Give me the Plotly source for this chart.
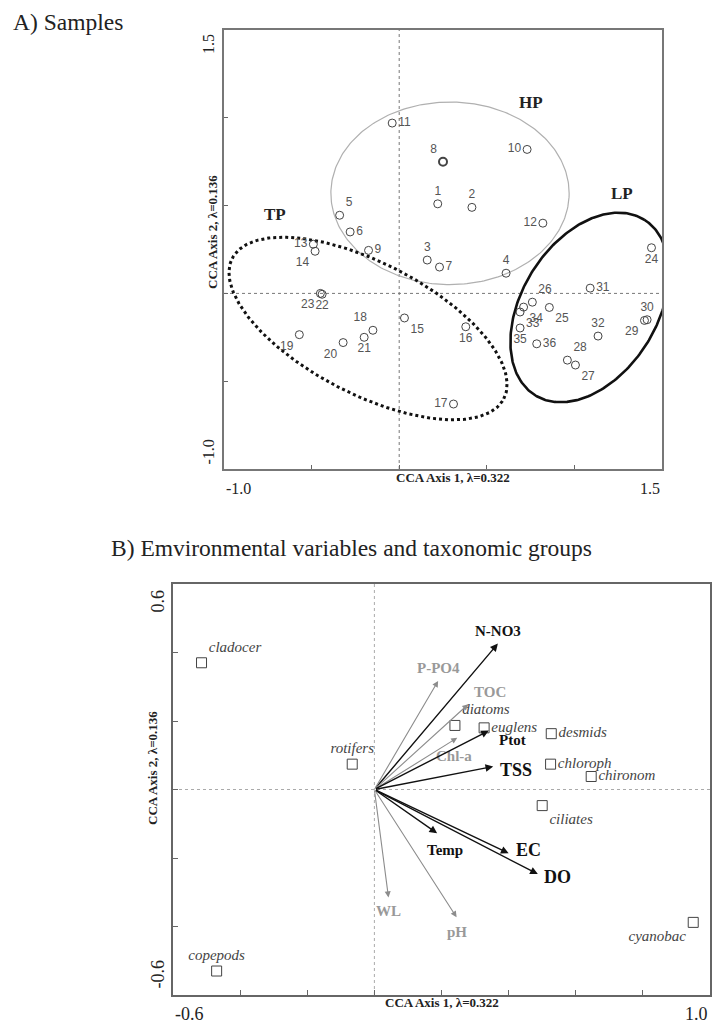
import numpy as np
import plotly.graph_objects as go

# page body adds an 8px margin, so the figure is drawn 8px smaller and offset
OFF = 8
W, H = 720 - OFF, 1023 - OFF


def px_x(p):
    return (p - OFF) / W


def px_y(p):
    return 1 - (p - OFF) / H


# ---------------- Panel A data: samples ----------------
samples = [str(i) for i in range(1, 37)]
s_ax1 = [0.22, 0.415, 0.16, 0.61, -0.34, -0.28, 0.23, 0.25, -0.175, 0.73,
         -0.04, 0.82, -0.49, -0.48, 0.03, 0.38, 0.31, -0.15, -0.57, -0.32,
         -0.20, -0.44, -0.45, 1.44, 0.857, 0.76, 1.006, 0.96, 1.40, 1.415,
         1.09, 1.135, 0.69, 0.71, 0.69, 0.785]
s_ax2 = [0.51, 0.49, 0.19, 0.115, 0.445, 0.35, 0.15, 0.75, 0.245, 0.82,
         0.97, 0.40, 0.28, 0.24, -0.14, -0.19, -0.63, -0.21, -0.235, -0.28,
         -0.25, -0.005, 0.0, 0.26, -0.08, -0.05, -0.408, -0.38, -0.154, -0.15,
         0.03, -0.243, -0.106, -0.078, -0.197, -0.287]
s_labelpos = ['top center', 'top center', 'top center', 'top center', 'top right',
              'middle right', 'middle right', 'top left', 'middle right', 'middle left',
              'middle right', 'middle left', 'middle left', 'bottom left', 'bottom right',
              'bottom center', 'middle left', 'top left', 'bottom left', 'bottom left',
              'bottom center', 'bottom center', 'bottom left', 'bottom center', 'bottom right',
              'top right', 'bottom right', 'top right', 'bottom left', 'top center',
              'middle right', 'top center', 'bottom right', 'bottom right', 'bottom center',
              'middle right']

# group envelopes: name, centre x, centre y, semi-axis a, semi-axis b, angle(deg)
groups = ['HP', 'TP', 'LP']
g_cx = [0.29, -0.178, 1.087]
g_cy = [0.57, -0.20, -0.08]
g_a = [0.68, 0.872, 0.589]
g_b = [0.52, 0.374, 0.386]
g_ang = [0.0, -27.3, 58.0]
g_label_x = [0.75, -0.71, 1.27]
g_label_y = [1.09, 0.45, 0.57]

# ---------------- Panel B data ----------------
taxa = ['cladocer', 'rotifers', 'copepods', 'diatoms', 'euglens', 'desmids',
        'chloroph', 'chironom', 'ciliates', 'cyanobac']
t_ax1 = [-0.515, -0.066, -0.47, 0.24, 0.327, 0.527, 0.525, 0.646, 0.50, 0.95]
t_ax2 = [0.37, 0.074, -0.53, 0.187, 0.18, 0.163, 0.074, 0.038, -0.047, -0.388]
t_labelpos = ['top right', 'top center', 'top center', 'top right', 'middle right',
              'middle right', 'middle right', 'middle right', 'bottom right', 'bottom left']

env = ['N-NO3', 'P-PO4', 'TOC', 'Chl-a', 'Ptot', 'TSS', 'Temp', 'EC', 'DO', 'WL', 'pH']
e_ax1 = [0.368, 0.19, 0.28, 0.247, 0.341, 0.354, 0.187, 0.40, 0.487, 0.042, 0.245]
e_ax2 = [0.426, 0.317, 0.249, 0.151, 0.172, 0.067, -0.128, -0.186, -0.247, -0.315, -0.373]
e_significant = [True, False, False, False, True, True, True, True, True, False, False]

SERIF = 'Liberation Serif, Times New Roman, serif'
SANS = 'Liberation Sans, Arial, sans-serif'

fig = go.Figure()

# ---- Panel A ----
for name, cx, cy, a, b, ang in zip(groups, g_cx, g_cy, g_a, g_b, g_ang):
    t = np.linspace(0, 2 * np.pi, 300)
    th = np.deg2rad(ang)
    ex = cx + a * np.cos(t) * np.cos(th) - b * np.sin(t) * np.sin(th)
    ey = cy + a * np.cos(t) * np.sin(th) + b * np.sin(t) * np.cos(th)
    if name == 'HP':
        line = dict(color='#b0b0b0', width=1.2)
    elif name == 'TP':
        line = dict(color='#111111', width=3, dash='3px,3px')
    else:
        line = dict(color='#111111', width=2.6)
    fig.add_trace(go.Scatter(x=ex, y=ey, mode='lines', line=line, hoverinfo='skip',
                             showlegend=False, xaxis='x', yaxis='y'))

lw = [2 if s == '8' else 1 for s in samples]
fig.add_trace(go.Scatter(
    x=s_ax1, y=s_ax2, mode='markers+text', text=samples, textposition=s_labelpos,
    textfont=dict(family=SANS, size=12, color='#555555'),
    marker=dict(symbol='circle-open', size=8, color='#444444', line=dict(width=lw)),
    showlegend=False, xaxis='x', yaxis='y', cliponaxis=False))

# ---- Panel B ----
fig.add_trace(go.Scatter(
    x=t_ax1, y=t_ax2, mode='markers+text', text=taxa, textposition=t_labelpos,
    textfont=dict(family=SERIF, size=15, color='#444444', style='italic'),
    marker=dict(symbol='square-open', size=10, color='#444444', line=dict(width=1)),
    showlegend=False, xaxis='x2', yaxis='y2', cliponaxis=False))

axA = dict(showgrid=False, zeroline=False, showline=True, mirror=True,
           linecolor='#777777', linewidth=1.5, ticks='inside', ticklen=4,
           tickcolor='#666666', tickwidth=1)
axB = dict(showgrid=False, zeroline=False, showline=True, mirror=True,
           linecolor='#666666', linewidth=2, ticks='inside', ticklen=5,
           tickcolor='#666666', tickwidth=1)

xa_ticks = [-1.0, -0.5, 0.0, 0.5, 1.0, 1.5]
xb_ticks = [-0.6, -0.4, -0.2, 0.0, 0.2, 0.4, 0.6, 0.8, 1.0]
yb_ticks = [-0.6, -0.4, -0.2, 0.0, 0.2, 0.4, 0.6]

fig.update_layout(
    width=W, height=H, margin=dict(l=0, r=0, t=0, b=0),
    paper_bgcolor='white', plot_bgcolor='white',
    xaxis=dict(domain=[px_x(224), px_x(662)], anchor='y', range=[-1.0, 1.5],
               tickvals=xa_ticks, ticktext=[''] * len(xa_ticks), **axA),
    yaxis=dict(domain=[px_y(469), px_y(30)], anchor='x', range=[-1.0, 1.5],
               tickvals=xa_ticks, ticktext=[''] * len(xa_ticks), **axA),
    xaxis2=dict(domain=[px_x(173), px_x(710)], anchor='y2', range=[-0.6, 1.0],
                tickvals=xb_ticks, ticktext=[''] * len(xb_ticks), **axB),
    yaxis2=dict(domain=[px_y(995), px_y(584)], anchor='x2', range=[-0.6, 0.6],
                tickvals=yb_ticks, ticktext=[''] * len(yb_ticks), **axB),
)

shapes = []
for xr, yr, col in [('x', 'y', '#777777'), ('x2', 'y2', '#aaaaaa')]:
    shapes.append(dict(type='line', xref=xr, yref=yr + ' domain', x0=0, x1=0, y0=0, y1=1,
                       line=dict(color=col, width=1, dash='dot'), layer='below'))
    shapes.append(dict(type='line', xref=xr + ' domain', yref=yr, x0=0, x1=1, y0=0, y1=0,
                       line=dict(color=col, width=1, dash='dot'), layer='below'))
fig.update_layout(shapes=shapes)

ann = []
ann.append(dict(text='A) Samples', xref='paper', yref='paper', x=px_x(11), y=px_y(22),
                xanchor='left', yanchor='middle', showarrow=False,
                font=dict(family=SERIF, size=23.5, color='#222222')))
ann.append(dict(text='B) Emvironmental variables and taxonomic groups', xref='paper',
                yref='paper', x=px_x(109), y=px_y(548), xanchor='left', yanchor='middle',
                showarrow=False, font=dict(family=SERIF, size=23.5, color='#222222')))

for name, gx, gy in zip(groups, g_label_x, g_label_y):
    ann.append(dict(text='<b>%s</b>' % name, xref='x', yref='y', x=gx, y=gy, showarrow=False,
                    font=dict(family=SERIF, size=17, color='#222222')))

title_font = dict(family=SERIF, size=13, color='#222222')
tick_font = dict(family=SERIF, size=16, color='#222222')
tick_fontB = dict(family=SERIF, size=18, color='#222222')

ann += [
    dict(text='<b>CCA Axis 1, λ=0.322</b>', xref='x domain', yref='y domain', x=0.5, y=0,
         yshift=-18, xshift=10, showarrow=False, font=title_font),
    dict(text='<b>CCA Axis 2, λ=0.136</b>', xref='x domain', yref='y domain', x=0,
         y=0.5, xshift=-21, yshift=17, textangle=-90, showarrow=False, font=title_font),
    dict(text='-1.0', xref='x', yref='y domain', x=-1.0, y=0, xanchor='left', yanchor='top',
         yshift=-9, showarrow=False, font=tick_font),
    dict(text='1.5', xref='x', yref='y domain', x=1.5, y=0, xanchor='right', yanchor='top',
         yshift=-9, showarrow=False, font=tick_font),
    dict(text='1.5', xref='x domain', yref='y', x=0, y=1.5, xanchor='center', yanchor='top',
         xshift=-16, yshift=-2, textangle=-90, showarrow=False, font=tick_font),
    dict(text='-1.0', xref='x domain', yref='y', x=0, y=-1.0, xanchor='center',
         yanchor='bottom', xshift=-16, yshift=2, textangle=-90, showarrow=False, font=tick_font),
    dict(text='<b>CCA Axis 1, λ=0.322</b>', xref='x2 domain', yref='y2 domain', x=0.5, y=0,
         yshift=-17, xshift=0, showarrow=False, font=title_font),
    dict(text='<b>CCA Axis 2, λ=0.136</b>', xref='x2 domain', yref='y2 domain', x=0,
         y=0.5, xshift=-30, yshift=21, textangle=-90, showarrow=False, font=title_font),
    dict(text='-0.6', xref='x2', yref='y2 domain', x=-0.6, y=0, xanchor='left',
         yanchor='top', yshift=-7, showarrow=False, font=tick_fontB),
    dict(text='1.0', xref='x2', yref='y2 domain', x=1.0, y=0, xanchor='right',
         yanchor='top', yshift=-7, showarrow=False, font=tick_fontB),
    dict(text='0.6', xref='x2 domain', yref='y2', x=0, y=0.6, xanchor='center',
         yanchor='top', xshift=-16, yshift=-4, textangle=-90, showarrow=False, font=tick_fontB),
    dict(text='-0.6', xref='x2 domain', yref='y2', x=0, y=-0.6, xanchor='center',
         yanchor='bottom', xshift=-16, yshift=4, textangle=-90, showarrow=False, font=tick_fontB),
]

label_style = {
    'N-NO3': dict(xanchor='center', yanchor='bottom', xshift=0, yshift=3, size=15),
    'P-PO4': dict(xanchor='center', yanchor='bottom', xshift=0, yshift=3, size=15),
    'TOC': dict(xanchor='left', yanchor='bottom', xshift=4, yshift=2, size=15),
    'Chl-a': dict(xanchor='center', yanchor='top', xshift=-3, yshift=-8, size=15),
    'Ptot': dict(xanchor='left', yanchor='middle', xshift=8, yshift=-9, size=15),
    'TSS': dict(xanchor='left', yanchor='middle', xshift=5, yshift=-3, size=18),
    'Temp': dict(xanchor='center', yanchor='top', xshift=8, yshift=-7, size=15),
    'EC': dict(xanchor='left', yanchor='middle', xshift=5, yshift=3, size=18),
    'DO': dict(xanchor='left', yanchor='middle', xshift=4, yshift=-3, size=18),
    'WL': dict(xanchor='center', yanchor='top', xshift=0, yshift=-4, size=15),
    'pH': dict(xanchor='center', yanchor='top', xshift=0, yshift=-5, size=15),
}
for name, x, y, sig in zip(env, e_ax1, e_ax2, e_significant):
    col = '#111111' if sig else '#8c8c8c'
    tcol = '#111111' if sig else '#999999'
    ann.append(dict(text='', xref='x2', yref='y2', axref='x2', ayref='y2', x=x, y=y,
                    ax=0, ay=0, showarrow=True, arrowhead=2, arrowsize=1.1,
                    arrowwidth=1.4 if sig else 1.1, arrowcolor=col, standoff=0))
    st = label_style[name]
    ann.append(dict(text='<b>%s</b>' % name, xref='x2', yref='y2', x=x, y=y,
                    xanchor=st['xanchor'], yanchor=st['yanchor'], xshift=st['xshift'],
                    yshift=st['yshift'], showarrow=False,
                    font=dict(family=SERIF, size=st['size'], color=tcol)))

fig.update_layout(annotations=ann)
fig.write_html('out.html')
